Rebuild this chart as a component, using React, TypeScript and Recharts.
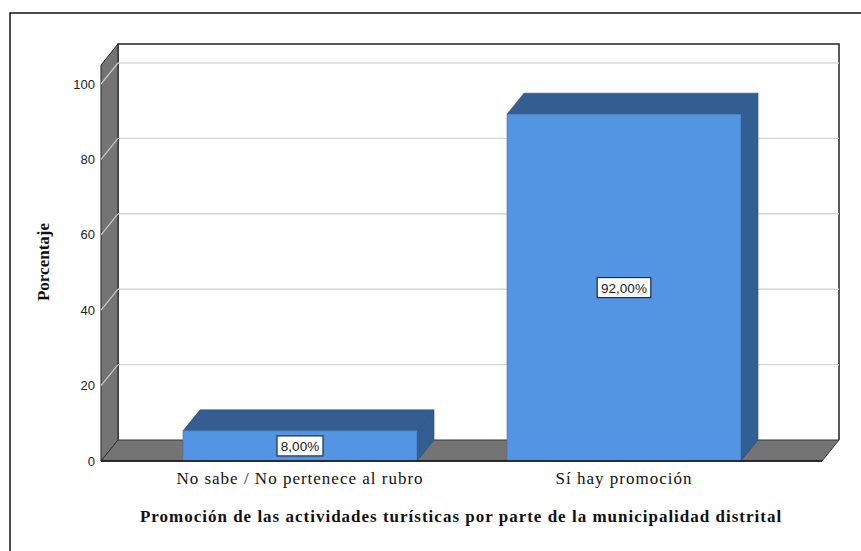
import React from 'react';
import { Bar, BarChart, CartesianGrid, LabelList, XAxis, YAxis } from 'recharts';

// values
const categories = ['No sabe / No pertenece al rubro', 'Sí hay promoción'];
const percentages = [8, 92];
const yTicks = [0, 20, 40, 60, 80, 100];

const data = categories.map((name, i) => ({ name, pct: percentages[i] }));

const W = 861;
const H = 551;

// plot area (front plane) and 3D depth offset
const PLOT_LEFT = 101;
const PLOT_RIGHT = 822;
const PLOT_TOP = 84;
const PLOT_BOTTOM = 461;
const DX = 17;
const DY = 21;
const WALL_TOP = 44;

const Y_AXIS_WIDTH = 60;
const X_AXIS_HEIGHT = 30;

const FRONT = '#5394e3';
const DARK = '#345d91';
const WALL = '#747474';
const SERIF = '"Liberation Serif", "Times New Roman", serif';
const SANS = '"Liberation Sans", Arial, sans-serif';

const fmt = (v: number) => `${v.toFixed(2).replace('.', ',')}%`;

function Bar3D(props: any) {
  const { x, y, width, height } = props;
  if (width == null || height == null) return null;
  const r = x + width;
  const b = y + height;
  return (
    <g>
      <polygon
        points={`${r},${y} ${r + DX},${y - DY} ${r + DX},${b - DY} ${r},${b}`}
        fill={DARK}
        stroke="#2b4d78"
        strokeWidth={0.6}
      />
      <polygon
        points={`${x},${y} ${x + DX},${y - DY} ${r + DX},${y - DY} ${r},${y}`}
        fill={DARK}
        stroke="#2b4d78"
        strokeWidth={0.6}
      />
      <rect x={x} y={y} width={width} height={height} fill={FRONT} stroke="#3f6fa8" strokeWidth={0.6} />
    </g>
  );
}

function ValueBox(props: any) {
  const { x, y, width, height, value } = props;
  const text = fmt(Number(value));
  const bw = text.length * 7.6 + 8;
  const bh = 20;
  const cx = x + width / 2;
  const cy = y + height / 2;
  return (
    <g>
      <rect x={cx - bw / 2} y={cy - bh / 2} width={bw} height={bh} fill="#fff" stroke="#1f2d3d" strokeWidth={1.2} />
      <text x={cx} y={cy + 5} textAnchor="middle" fontFamily={SANS} fontSize={13.5} fill="#1a1a1a">
        {text}
      </text>
    </g>
  );
}

function GridLine(props: any) {
  const { x1, y1, x2 } = props;
  if (Math.abs(y1 - PLOT_BOTTOM) < 1) return <g />;
  return (
    <g>
      <line x1={x1} y1={y1} x2={x1 + DX} y2={y1 - DY} stroke="#c8c8c8" strokeWidth={1.2} />
      <line x1={x1 + DX} y1={y1 - DY} x2={x2 + DX} y2={y1 - DY} stroke="#d6d6d6" strokeWidth={1.4} />
    </g>
  );
}

function Backdrop() {
  return (
    <svg width={W} height={H} style={{ position: 'absolute', left: 0, top: 0 }}>
      <rect x={10} y={13} width={W} height={H} fill="#fff" stroke="#111" strokeWidth={1.5} />
      {/* back wall */}
      <rect x={PLOT_LEFT + DX} y={WALL_TOP} width={PLOT_RIGHT - PLOT_LEFT} height={PLOT_BOTTOM - DY - WALL_TOP} fill="#fff" />
      <polyline
        points={`${PLOT_LEFT + DX},${PLOT_BOTTOM - DY} ${PLOT_LEFT + DX},${WALL_TOP} ${PLOT_RIGHT + DX},${WALL_TOP} ${PLOT_RIGHT + DX},${PLOT_BOTTOM - DY}`}
        fill="none"
        stroke="#222"
        strokeWidth={1.5}
      />
      {/* left wall */}
      <polygon
        points={`${PLOT_LEFT},${WALL_TOP + DY} ${PLOT_LEFT + DX},${WALL_TOP} ${PLOT_LEFT + DX},${PLOT_BOTTOM - DY} ${PLOT_LEFT},${PLOT_BOTTOM}`}
        fill={WALL}
        stroke="#222"
        strokeWidth={1}
      />
      {/* floor */}
      <polygon
        points={`${PLOT_LEFT},${PLOT_BOTTOM} ${PLOT_LEFT + DX},${PLOT_BOTTOM - DY} ${PLOT_RIGHT + DX},${PLOT_BOTTOM - DY} ${PLOT_RIGHT},${PLOT_BOTTOM}`}
        fill={WALL}
        stroke="#333"
        strokeWidth={1}
      />
      <text
        x={461}
        y={522}
        textAnchor="middle"
        fontFamily={SERIF}
        fontWeight="bold"
        fontSize={17}
        letterSpacing={1}
        fill="#111"
      >
        Promoción de las actividades turísticas por parte de la municipalidad distrital
      </text>
      <text
        x={0}
        y={0}
        transform="translate(49 262) rotate(-90)"
        textAnchor="middle"
        fontFamily={SERIF}
        fontWeight="bold"
        fontSize={17}
        fill="#111"
      >
        Porcentaje
      </text>
    </svg>
  );
}

export default function App() {
  return (
    <div style={{ position: 'absolute', left: 0, top: 0, width: W, height: H, background: '#fff' }}>
      <Backdrop />
      <div style={{ position: 'absolute', left: 0, top: 0 }}>
        <BarChart
          width={W}
          height={H}
          data={data}
          margin={{
            top: PLOT_TOP,
            right: W - PLOT_RIGHT,
            left: PLOT_LEFT - Y_AXIS_WIDTH,
            bottom: H - PLOT_BOTTOM - X_AXIS_HEIGHT,
          }}
        >
          <CartesianGrid vertical={false} horizontal={(p: any) => <GridLine key={p.key ?? p.index} {...p} />} />
          <XAxis
            dataKey="name"
            height={X_AXIS_HEIGHT}
            padding={{ left: 37, right: 36 }}
            tickLine={false}
            axisLine={{ stroke: '#111', strokeWidth: 1.5 }}
            tickMargin={5}
            tick={{ fontFamily: SERIF, fontSize: 17, fill: '#111', letterSpacing: 1 }}
          />
          <YAxis
            width={Y_AXIS_WIDTH}
            domain={[0, 100]}
            ticks={yTicks}
            tickLine={false}
            axisLine={false}
            tickMargin={0}
            tick={{ fontFamily: SANS, fontSize: 13, fill: '#222' }}
          />
          <Bar dataKey="pct" barSize={234} shape={<Bar3D />} isAnimationActive={false}>
            <LabelList dataKey="pct" content={<ValueBox />} />
          </Bar>
        </BarChart>
      </div>
    </div>
  );
}
